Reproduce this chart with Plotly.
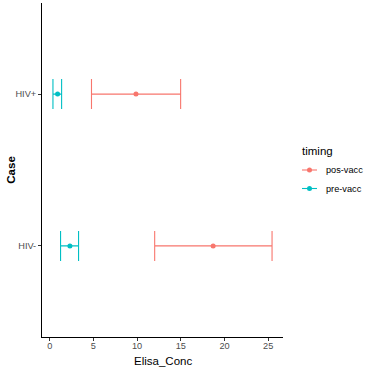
import plotly.graph_objects as go

cases = ["HIV-", "HIV+"]
timings = ["pos-vacc", "pre-vacc"]
colors = {"pos-vacc": "#F8766D", "pre-vacc": "#00BFC4"}
# mean, lower, upper for each case
pos_mean = [18.7, 9.87]
pos_low = [12.01, 4.78]
pos_high = [25.44, 14.98]
pre_mean = [2.31, 0.9]
pre_low = [1.24, 0.37]
pre_high = [3.3, 1.36]

data = {
    "pos-vacc": (pos_mean, pos_low, pos_high),
    "pre-vacc": (pre_mean, pre_low, pre_high),
}

FONT = "Liberation Sans, Arial, sans-serif"
fig = go.Figure()
for t in timings:
    m, lo, hi = data[t]
    fig.add_trace(go.Scatter(
        x=m, y=cases, mode="markers", name=t, showlegend=False,
        marker=dict(color=colors[t], size=5),
        error_x=dict(type="data", symmetric=False,
                     array=[h - v for h, v in zip(hi, m)],
                     arrayminus=[v - l for v, l in zip(m, lo)],
                     color=colors[t], thickness=1.1, width=15),
    ))

allv = pos_low + pos_high + pre_low + pre_high
lo_, hi_ = min(allv), max(allv)
pad = (hi_ - lo_) * 0.05

fig.update_layout(
    width=365, height=380,
    margin=dict(l=42, r=82, t=3, b=43, autoexpand=False),
    plot_bgcolor="white", paper_bgcolor="white",
    font=dict(family=FONT),
    hovermode=False,
    xaxis=dict(range=[lo_ - pad, hi_ + pad], tickvals=[0, 5, 10, 15, 20, 25],
               automargin=False,
               showgrid=False, zeroline=False, showline=True, linecolor="black", linewidth=1,
               ticks="outside", ticklen=3, tickcolor="#333333", ticklabelstandoff=-3,
               tickfont=dict(size=9.2, color="#4D4D4D", family=FONT)),
    yaxis=dict(type="category", categoryorder="array", categoryarray=cases,
               automargin=False,
               range=[-0.6, 1.6], showgrid=False, zeroline=False,
               showline=True, linecolor="black", linewidth=1,
               ticks="outside", ticklen=3, tickcolor="#333333",
               tickfont=dict(size=9.2, color="#4D4D4D", family=FONT)),
)

pw, ph = 365 - 42 - 82, 380 - 3 - 43
def px(xp):
    return (xp - 42) / pw
def py(yp):
    return (380 - 43 - yp) / ph

# axis titles
fig.add_annotation(x=px(163), y=py(361), xref="paper", yref="paper", text="Elisa_Conc",
                   showarrow=False, xanchor="center", yanchor="middle",
                   font=dict(size=11.5, color="black", family=FONT))
fig.add_annotation(x=px(10.7), y=py(170), xref="paper", yref="paper", text="<b>Case</b>",
                   showarrow=False, xanchor="center", yanchor="middle", textangle=-90,
                   font=dict(size=11.5, color="black", family=FONT))

# manual ggplot-style legend
fig.add_annotation(x=px(300), y=py(151), xref="paper", yref="paper", text="timing",
                   showarrow=False, xanchor="left", yanchor="middle",
                   font=dict(size=11.5, color="black", family=FONT))
for i, t in enumerate(timings):
    yy = 170 + i * 18.5
    fig.add_shape(type="line", xref="paper", yref="paper",
                  x0=px(302), x1=px(317), y0=py(yy), y1=py(yy),
                  line=dict(color=colors[t], width=1.1))
    fig.add_shape(type="circle", xref="paper", yref="paper",
                  xsizemode="pixel", ysizemode="pixel",
                  xanchor=px(309.5), yanchor=py(yy),
                  x0=-2.5, x1=2.5, y0=-2.5, y1=2.5,
                  fillcolor=colors[t], line=dict(width=0))
    fig.add_annotation(x=px(324), y=py(yy), xref="paper", yref="paper", text=t,
                       showarrow=False, xanchor="left", yanchor="middle",
                       font=dict(size=9.2, color="black", family=FONT))

fig.write_html("out.html", config={"displayModeBar": False},
               post_script="document.body.style.margin='0';document.body.style.overflow='hidden';")
